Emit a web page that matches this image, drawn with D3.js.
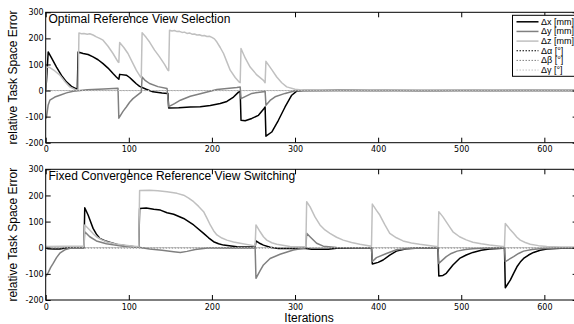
<!DOCTYPE html>
<html>
<head>
<meta charset="utf-8">
<script src="https://cdn.jsdelivr.net/npm/d3@7"></script>
<style>
    body { margin: 0; background: #fff; }
    svg { display: block; }
</style>
</head>
<body>
<div id="chart"></div>
<script>
var xTicks = [0, 100, 200, 300, 400, 500, 600];
var yTicks = [-200, -100, 0, 100, 200, 300];
var seriesNames = ["\u0394x [mm]", "\u0394y [mm]", "\u0394z [mm]", "\u0394\u03b1 [\u00b0]", "\u0394\u03b2 [\u00b0]", "\u0394\u03b3 [\u00b0]"];
var panelTitles = ["Optimal Reference View Selection", "Fixed Convergence Reference View Switching"];

// Optimal reference view selection: [iteration, error]
var optDx = [[0, 0], [1, 40], [3, 148], [7, 125], [13, 90], [19, 58], [25, 33], [31, 16], [37, 6], [38, 4], [39, 148],
    [45, 142], [51, 138], [57, 129], [63, 118], [69, 103], [75, 86], [81, 65], [85, 52], [88, 43], [89, 62], [97, 59],
    [101, 50], [105, 38], [109, 26], [113, 16], [121, 5], [129, -5], [140, -9], [147, -11], [148, -67], [160, -66],
    [174, -63], [186, -62], [198, -57], [210, -50], [218, -42], [226, -25], [232, -6], [234, -3], [235, -114],
    [240, -116], [248, -107], [256, -95], [262, -72], [264, -63], [265, -175], [272, -159], [280, -114], [288, -63],
    [296, -18], [302, -2], [310, 0], [400, 0], [500, 0], [640, 0]];
var optDy = [[0, -108], [1, -101], [3, -55], [5, -37], [11, -25], [17, -18], [25, -9], [33, -3], [50, 3], [70, 6],
    [87, 9], [88, -106], [93, -80], [97, -63], [101, -45], [105, -31], [113, -11], [115, -6], [116, 52], [120, 38],
    [125, 27], [135, 15], [146, 8], [148, -62], [155, -50], [162, -37], [174, -22], [186, -12], [206, 4], [230, 12],
    [234, 14], [235, -31], [248, -11], [262, -5], [264, -3], [265, -56], [270, -38], [276, -24], [288, -11],
    [300, -1], [350, 1], [450, -1], [550, 0], [640, 0]];
var optDz = [[0, 0], [1, 90], [5, 88], [11, 75], [17, 59], [23, 35], [29, 14], [36, 3], [39, 2], [40, 221],
    [43, 218], [46, 219], [50, 216], [53, 218], [57, 213], [61, 206], [65, 200], [69, 193], [75, 170], [81, 142],
    [87, 110], [88, 108], [89, 184], [94, 165], [99, 142], [104, 110], [109, 78], [114, 52], [115, 50], [116, 222],
    [121, 203], [125, 186], [131, 155], [137, 129], [143, 100], [147, 78], [148, 76], [149, 231], [152, 228],
    [155, 230], [158, 226], [161, 227], [164, 223], [167, 224], [170, 219], [173, 221], [176, 216], [179, 217],
    [182, 213], [185, 214], [188, 210], [191, 211], [194, 207], [197, 208], [200, 204], [203, 198], [206, 186],
    [210, 165], [214, 142], [218, 110], [222, 78], [228, 50], [233, 32], [234, 30], [235, 161], [240, 125],
    [246, 90], [254, 60], [262, 39], [264, 30], [265, 112], [272, 80], [278, 52], [284, 30], [290, 14], [300, 5],
    [310, 1], [330, 2], [360, -2], [390, 1], [420, -2], [460, 1], [500, -2], [540, 1], [580, -1], [640, 0]];
var optDa = [[0, 0], [100, 0], [200, 0], [300, 0], [400, 0], [500, 0], [640, 0]];
var optDb = [[0, 0], [100, 0], [200, 0], [300, 0], [400, 0], [500, 0], [640, 0]];
var optDg = [[0, 0], [100, 0], [200, 0], [300, 0], [400, 0], [500, 0], [640, 0]];

// Fixed convergence reference view switching: [iteration, error]
var fixDx = [[0, 0], [3, -4], [10, -5], [17, -5], [22, -2], [30, 0], [46, 0], [47, 153], [51, 125], [57, 74],
    [61, 52], [65, 36], [71, 27], [77, 21], [89, 10], [109, 3], [112, 2], [113, 150], [121, 152], [130, 147],
    [138, 144], [146, 134], [154, 128], [166, 112], [178, 87], [190, 55], [196, 38], [202, 23], [208, 15],
    [214, 10], [230, 4], [252, 3], [253, 26], [258, 16], [262, 10], [270, 2], [280, -3], [313, -3], [320, -6],
    [340, -6], [350, -2], [392, 0], [393, -62], [400, -56], [406, -47], [414, -28], [422, -13], [434, -4],
    [450, -1], [472, 0], [473, -108], [478, -106], [482, -98], [490, -66], [498, -41], [506, -28], [514, -18],
    [524, -10], [534, -5], [550, -2], [552, -1], [553, -153], [559, -124], [563, -98], [567, -73], [571, -55],
    [575, -41], [581, -28], [587, -18], [595, -10], [603, -5], [620, -2], [640, -1]];
var fixDy = [[0, -111], [3, -95], [6, -75], [9, -60], [13, -38], [17, -21], [23, -8], [29, -2], [46, 0], [47, 61],
    [53, 42], [61, 26], [73, 15], [93, 6], [112, 2], [125, -5], [140, -10], [154, -15], [162, -18], [170, -14],
    [180, -7], [195, -1], [252, 0], [253, -117], [258, -88], [262, -66], [270, -41], [282, -25], [298, -9],
    [310, -2], [313, 0], [314, 55], [318, 42], [326, 17], [334, 6], [350, 1], [392, 0], [393, -53], [398, -38],
    [410, -22], [422, -8], [440, -2], [472, 0], [473, -60], [482, -34], [488, -22], [495, -13], [505, -7],
    [514, -4], [530, -1], [552, 0], [553, -53], [563, -34], [569, -22], [575, -13], [585, -7], [595, -4],
    [615, -1], [640, 0]];
var fixDz = [[0, 5], [20, 6], [46, 6], [47, 87], [53, 68], [57, 54], [61, 42], [67, 31], [73, 23], [83, 15],
    [93, 10], [109, 5], [112, 5], [113, 219], [125, 220], [135, 218], [146, 214], [158, 208], [166, 201],
    [172, 190], [178, 176], [184, 158], [190, 138], [194, 113], [198, 87], [202, 65], [206, 49], [212, 37],
    [218, 29], [226, 22], [234, 17], [250, 8], [252, 7], [253, 87], [258, 61], [262, 42], [266, 29], [272, 19],
    [278, 13], [294, 5], [313, 4], [314, 176], [318, 157], [324, 118], [330, 87], [336, 68], [342, 55], [350, 40],
    [358, 29], [368, 20], [378, 13], [392, 6], [393, 167], [398, 143], [402, 125], [408, 88], [414, 55],
    [422, 38], [430, 26], [440, 18], [450, 13], [470, 5], [472, 4], [473, 138], [478, 118], [482, 99], [486, 80],
    [490, 61], [498, 42], [506, 30], [514, 21], [524, 15], [534, 10], [550, 5], [552, 4], [553, 93], [558, 73],
    [563, 55], [567, 40], [571, 29], [577, 20], [583, 13], [593, 8], [603, 5], [620, 3], [640, 3]];
var fixDa = [[0, 0], [100, 0], [200, 0], [300, 0], [400, 0], [500, 0], [640, 0]];
var fixDb = [[0, 0], [100, 0], [200, 0], [300, 0], [400, 0], [500, 0], [640, 0]];
var fixDg = [[0, 0], [100, 0], [200, 0], [300, 0], [400, 0], [500, 0], [640, 0]];

var width = 574, height = 324;
var left = 45.7, right = 577.6;
var lineColors = ["#000000", "#808080", "#c0c0c0", "#000000", "#808080", "#c0c0c0"];
var lineDash = [null, null, null, "1.5,1.5", "1.5,1.5", "1.5,1.5"];
var lineWidth = [1.5, 1.5, 1.5, 1, 1, 1];

var svg = d3.select("#chart").append("svg")
    .attr("width", width)
    .attr("height", height);

svg.append("rect")
    .attr("width", width)
    .attr("height", height)
    .attr("fill", "#fff");

var x = d3.scaleLinear()
    .domain([0, 640])
    .range([left, right]);

drawPanel(12.3, 142.7, panelTitles[0], [optDx, optDy, optDz, optDa, optDb, optDg], true, "clipTop");
drawPanel(169.3, 300, panelTitles[1], [fixDx, fixDy, fixDz, fixDa, fixDb, fixDg], false, "clipBottom");

// x label under the lower panel
svg.append("text")
    .attr("x", 309)
    .attr("y", 321.5)
    .attr("text-anchor", "middle")
    .attr("font-family", "Liberation Sans, Arial, sans-serif")
    .attr("font-size", 12)
    .text("Iterations");

/**
 * One subplot
 * @param top
 * @param bottom
 * @param title
 * @param series
 * @param withLegend
 * @param clipId
 */
function drawPanel(top, bottom, title, series, withLegend, clipId) {
    var y = d3.scaleLinear()
        .domain([-200, 300])
        .range([bottom, top]);

    svg.append("clipPath")
        .attr("id", clipId)
        .append("rect")
        .attr("x", left)
        .attr("y", top)
        .attr("width", right - left)
        .attr("height", bottom - top);

    var line = d3.line()
        .x(function (d) { return x(d[0]); })
        .y(function (d) { return y(d[1]); });

    var g = svg.append("g").attr("clip-path", "url(#" + clipId + ")");
    series.forEach(function (s, i) {
        g.append("path")
            .datum(s)
            .attr("d", line)
            .attr("fill", "none")
            .attr("stroke", lineColors[i])
            .attr("stroke-width", lineWidth[i])
            .attr("stroke-dasharray", lineDash[i])
            .attr("stroke-linejoin", "round");
    });

    // ticks go inwards on all four sides
    var axisB = svg.append("g")
        .attr("transform", "translate(0," + bottom + ")")
        .call(d3.axisBottom(x).tickValues(xTicks).tickSizeInner(-5).tickSizeOuter(0).tickPadding(4));
    svg.append("g")
        .attr("transform", "translate(0," + top + ")")
        .call(d3.axisTop(x).tickValues(xTicks).tickSizeInner(-5).tickSizeOuter(0).tickFormat(""));
    var axisL = svg.append("g")
        .attr("transform", "translate(" + left + ",0)")
        .call(d3.axisLeft(y).tickValues(yTicks).tickSizeInner(-5).tickSizeOuter(0).tickPadding(2));
    svg.append("g")
        .attr("transform", "translate(" + right + ",0)")
        .call(d3.axisRight(y).tickValues(yTicks).tickSizeInner(-5).tickSizeOuter(0).tickFormat(""));

    svg.selectAll(".domain").remove();
    [axisB, axisL].forEach(function (a) {
        a.attr("font-family", "DejaVu Sans, sans-serif").attr("font-size", 8);
        a.selectAll("text").text(function (d) { return String(d); });
    });

    svg.append("rect")
        .attr("x", left)
        .attr("y", top)
        .attr("width", right - left)
        .attr("height", bottom - top)
        .attr("fill", "none")
        .attr("stroke", "#000")
        .attr("stroke-width", 1);

    svg.append("text")
        .attr("x", 48.5)
        .attr("y", top + 10.5)
        .attr("font-family", "Liberation Sans, Arial, sans-serif")
        .attr("font-size", 12)
        .text(title);

    svg.append("text")
        .attr("transform", "translate(17," + (top + bottom) / 2 + ") rotate(-90)")
        .attr("text-anchor", "middle")
        .attr("font-family", "Liberation Sans, Arial, sans-serif")
        .attr("font-size", 12)
        .text("relative Task Space Error");

    if (withLegend) {
        drawLegend(top);
    }
}

/**
 * Legend in the upper right corner
 * @param top
 */
function drawLegend(top) {
    var lg = svg.append("g").attr("transform", "translate(512.5," + (top + 3) + ")");
    lg.append("rect")
        .attr("width", 70)
        .attr("height", 61)
        .attr("fill", "#fff")
        .attr("stroke", "#000")
        .attr("stroke-width", 1);
    var item = lg.selectAll(".item")
        .data(seriesNames)
        .enter().append("g")
        .attr("class", "item")
        .attr("transform", function (d, i) {
            return "translate(0," + (6.5 + i * 9.65) + ")";
        });
    item.append("line")
        .attr("x1", 4)
        .attr("x2", 26)
        .attr("stroke", function (d, i) { return lineColors[i]; })
        .attr("stroke-width", function (d, i) { return lineWidth[i]; })
        .attr("stroke-dasharray", function (d, i) { return lineDash[i]; });
    item.append("text")
        .attr("x", 28.5)
        .attr("y", 3)
        .attr("font-family", "Liberation Sans, Arial, sans-serif")
        .attr("font-size", 9)
        .text(function (d) { return d; });
}
</script>
</body>
</html>
